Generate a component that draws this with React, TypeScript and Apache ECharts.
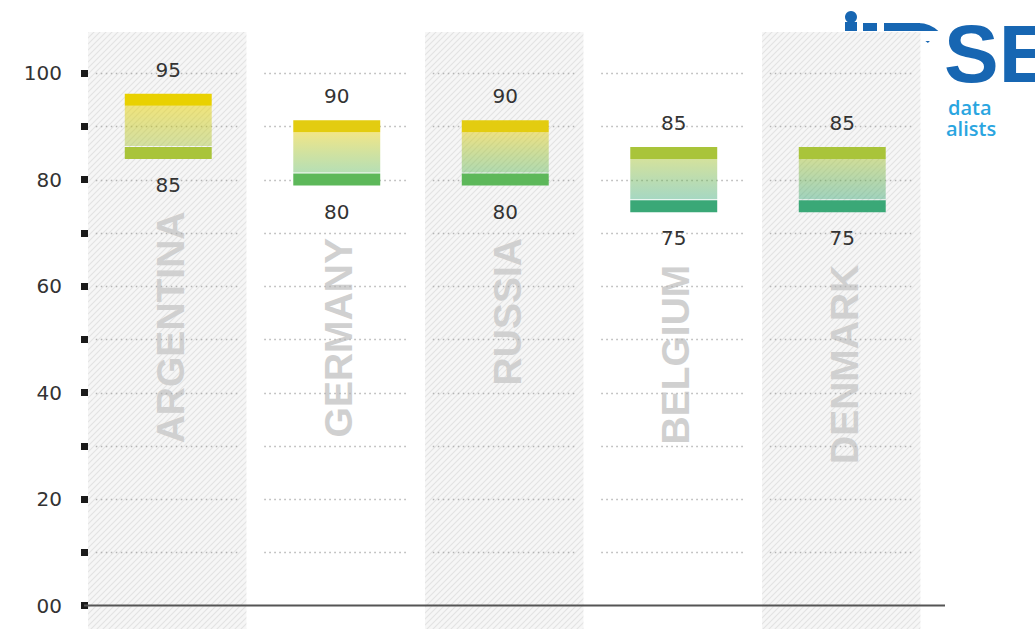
import React, { useEffect, useRef } from 'react';
import * as echarts from 'echarts';

const countries = ['ARGENTINA', 'GERMANY', 'RUSSIA', 'BELGIUM', 'DENMARK'];
const highValues = [95, 90, 90, 85, 85];
const lowValues = [85, 80, 80, 75, 75];
const yTicks = [0, 10, 20, 30, 40, 50, 60, 70, 80, 90, 100];
const yTickLabels = ['00', '', '20', '', '40', '', '60', '', '80', '', '100'];
const shadedColumns = [0, 2, 4];

const capColors: Record<number, string> = {
  95: '#e9d100',
  90: '#e3cc10',
  85: '#a9c43a',
  80: '#5db85a',
  75: '#3aa877',
};

function withAlpha(hex: string, a: number) {
  const r = parseInt(hex.slice(1, 3), 16);
  const g = parseInt(hex.slice(3, 5), 16);
  const b = parseInt(hex.slice(5, 7), 16);
  return `rgba(${r},${g},${b},${a})`;
}

const NUM_FONT = '"DejaVu Sans", sans-serif';

export default function App() {
  const ref = useRef<HTMLDivElement>(null);
  useEffect(() => {
    if (!ref.current) return;
    const chart = echarts.init(ref.current, undefined, { renderer: 'svg' });

    const cv = document.createElement('canvas');
    cv.width = 6;
    cv.height = 6;
    const ctx = cv.getContext('2d')!;
    ctx.fillStyle = '#f6f6f6';
    ctx.fillRect(0, 0, 6, 6);
    ctx.strokeStyle = '#e3e3e3';
    ctx.lineWidth = 1.2;
    ctx.beginPath();
    ctx.moveTo(-1, 7); ctx.lineTo(7, -1);
    ctx.moveTo(-1, 1); ctx.lineTo(1, -1);
    ctx.moveTo(5, 7); ctx.lineTo(7, 5);
    ctx.stroke();
    const hatch: any = { image: cv, repeat: 'repeat', imageWidth: 6, imageHeight: 6 };

    const option: any = {
      animation: false,
      backgroundColor: 'transparent',
      grid: { left: 84, right: 108.5, top: 73, bottom: 23.5 },
      xAxis: {
        type: 'category',
        data: countries,
        axisLine: { show: false },
        axisTick: { show: false },
        axisLabel: { show: false },
        splitLine: { show: false },
      },
      yAxis: {
        type: 'value',
        min: 0,
        max: 100,
        interval: 10,
        offset: -4,
        z: 10,
        axisLine: { show: false },
        axisTick: { show: true, length: 7, lineStyle: { width: 7, color: '#1a1a1a' } },
        splitLine: { show: false },
        axisLabel: {
          margin: 26,
          fontSize: 20,
          fontFamily: NUM_FONT,
          color: '#333333',
          formatter: (v: number) => {
            const i = yTicks.indexOf(v);
            return i >= 0 ? yTickLabels[i] : '';
          },
        },
      },
      series: [
        {
          type: 'custom',
          z: 1,
          silent: true,
          data: shadedColumns.map((i) => [i]),
          encode: { x: 0 },
          renderItem: (params: any, api: any) => {
            const idx = api.value(0);
            const cx = api.coord([idx, 0])[0];
            const band = api.size([1, 0])[0];
            const top = api.coord([idx, 107.7])[1];
            const bottom = api.coord([idx, -4.6])[1];
            const w = band * 0.94;
            return {
              type: 'rect',
              shape: { x: cx - w / 2 - 1, y: top, width: w, height: bottom - top },
              style: { fill: hatch },
            };
          },
        },
        {
          type: 'custom',
          z: 2,
          silent: true,
          data: countries.map((c, i) => [i, lowValues[i]]),
          encode: { x: 0, y: 1 },
          renderItem: (params: any, api: any) => {
            const idx = api.value(0);
            const low = api.value(1);
            const p = api.coord([idx, low - 11]);
            return {
              type: 'text',
              x: p[0] + 2,
              y: p[1],
              rotation: Math.PI / 2,
              style: {
                text: countries[idx],
                fill: '#d0d0d0',
                font: 'bold 39px "Liberation Sans", Arial, sans-serif',
                align: 'right',
                verticalAlign: 'middle',
              },
            };
          },
        },
        {
          type: 'custom',
          z: 3,
          silent: true,
          data: countries.map((c, i) => [i]),
          encode: { x: 0 },
          renderItem: (params: any, api: any) => {
            const idx = api.value(0);
            const cx = api.coord([idx, 0])[0];
            const band = api.size([1, 0])[0];
            const half = band * 0.43;
            const children = yTicks.filter((t) => t > 0).map((t) => {
              const y = Math.round(api.coord([idx, t])[1]) + 0.5;
              return {
                type: 'line',
                shape: { x1: cx - half, y1: y, x2: cx + half, y2: y },
                style: { stroke: '#b4b4b4', lineWidth: 1.5, lineDash: [1.5, 3.5] },
              };
            });
            return { type: 'group', children };
          },
        },
        {
          type: 'custom',
          z: 4,
          silent: true,
          data: countries.map((c, i) => [i, lowValues[i], highValues[i]]),
          encode: { x: 0, y: [1, 2] },
          renderItem: (params: any, api: any) => {
            const idx = api.value(0);
            const low = api.value(1);
            const high = api.value(2);
            const [cx, yHigh] = api.coord([idx, high]);
            const yLow = api.coord([idx, low])[1];
            const band = api.size([1, 0])[0];
            const w = band * 0.516;
            const capH = 12;
            const x0 = cx - w / 2;
            const hc = capColors[high] || '#cccc00';
            const lc = capColors[low] || '#66bb66';
            const gTop = yHigh + capH / 2;
            const gBot = yLow - capH / 2 - 1;
            return {
              type: 'group',
              children: [
                {
                  type: 'rect',
                  shape: { x: x0, y: gTop, width: w, height: gBot - gTop },
                  style: {
                    fill: new echarts.graphic.LinearGradient(0, 0, 0, 1, [
                      { offset: 0, color: withAlpha(hc, 0.5) },
                      { offset: 1, color: withAlpha(lc, 0.45) },
                    ]),
                  },
                },
                { type: 'rect', shape: { x: x0, y: yHigh - capH / 2, width: w, height: capH }, style: { fill: hc } },
                { type: 'rect', shape: { x: x0, y: yLow - capH / 2, width: w, height: capH }, style: { fill: lc } },
                {
                  type: 'text',
                  style: {
                    text: String(high), x: cx, y: yHigh - 30, fill: '#333333',
                    font: `20px ${NUM_FONT}`, align: 'center', verticalAlign: 'middle',
                  },
                },
                {
                  type: 'text',
                  style: {
                    text: String(low), x: cx, y: yLow + 32, fill: '#333333',
                    font: `20px ${NUM_FONT}`, align: 'center', verticalAlign: 'middle',
                  },
                },
              ],
            };
          },
        },
      ],
    };
    chart.setOption(option);

    const y0 = chart.convertToPixel({ yAxisIndex: 0 }, 0) as number;
    chart.setOption({
      graphic: [
        {
          type: 'text', x: 944, y: 53,
          style: { text: 'SE', fill: '#1766b2', font: 'bold 82px "Liberation Sans", Arial, sans-serif', lineHeight: 62, align: 'left', verticalAlign: 'middle' },
        },
        { type: 'rect', shape: { x: 884, y: 23, width: 36, height: 8 }, style: { fill: '#1766b2' } },
        { type: 'sector', shape: { cx: 918, cy: 53, r0: 14, r: 30, startAngle: -Math.PI / 2, endAngle: -Math.PI / 4 }, style: { fill: '#1766b2' } },
        { type: 'rect', shape: { x: 863, y: 23, width: 14, height: 8 }, style: { fill: '#1766b2' } },
        { type: 'circle', shape: { cx: 851, cy: 17, r: 6 }, style: { fill: '#1766b2' } },
        { type: 'rect', shape: { x: 845, y: 22, width: 12, height: 9 }, style: { fill: '#1766b2' } },
        { type: 'rect', shape: { x: 780, y: 31, width: 165, height: 10 }, style: { fill: '#ffffff' } },
        {
          type: 'text', x: 948, y: 107,
          style: { text: 'data', fill: '#2aa5e0', font: '600 20px "Open Sans", sans-serif', lineHeight: 20, align: 'left', verticalAlign: 'middle' },
        },
        {
          type: 'text', x: 946, y: 128,
          style: { text: 'alists', fill: '#2aa5e0', font: '600 20px "Open Sans", sans-serif', lineHeight: 20, align: 'left', verticalAlign: 'middle' },
        },
        {
          type: 'line',
          z: 20,
          shape: { x1: 84, y1: y0, x2: 945, y2: y0 },
          style: { stroke: '#555555', lineWidth: 2 },
        },
      ],
    });

    return () => chart.dispose();
  }, []);
  return (
    <div
      ref={ref}
      style={{ position: 'fixed', left: 0, top: 0, width: 1035, height: 629, background: '#ffffff' }}
    />
  );
}
